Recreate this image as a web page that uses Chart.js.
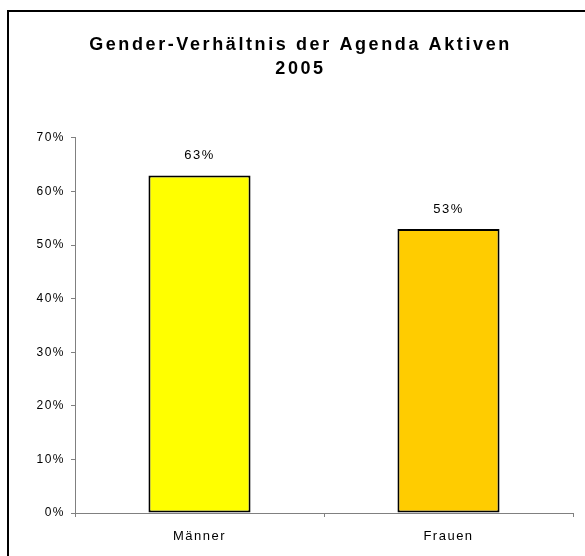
<!DOCTYPE html>
<html>
<head>
<meta charset="utf-8">
<script src="https://cdn.jsdelivr.net/npm/chart.js@4/dist/chart.umd.min.js"></script>
<style>
  html, body { margin: 0; padding: 0; background: #fff; }
  #wrap { width: 585px; height: 556px; position: relative; }
</style>
</head>
<body>
<div id="wrap"><canvas id="genderChart"></canvas></div>
<script>
// Data
var categories = ['Männer', 'Frauen'];
var shares = [63, 53];
var barColors = ['#FFFF00', '#FFCC00'];
var titleLines = ['Gender-Verhältnis der Agenda Aktiven', '2005'];

var FONT = "'Liberation Sans', Arial, sans-serif";

// Frame around the whole picture (only left and top edge visible) + spaced text
var framePlugin = {
  id: 'frame',
  afterLayout: function (chart) {
    // Title is a bit wider spaced and sits right of centre in the original
    var tb = chart.titleBlock;
    if (tb && !tb._spaced) {
      var origDraw = tb.draw;
      tb.draw = function () {
        var c = chart.ctx;
        c.save();
        c.letterSpacing = '2.6px';
        c.translate(14, 0);
        origDraw.apply(tb, arguments);
        c.restore();
      };
      tb._spaced = true;
    }
  },
  beforeDraw: function (chart) {
    var ctx = chart.ctx;
    ctx.save();
    ctx.fillStyle = '#fff';
    ctx.fillRect(0, 0, chart.width, chart.height);
    ctx.strokeStyle = '#000';
    ctx.lineWidth = 2;
    ctx.beginPath();
    ctx.moveTo(8, chart.height);
    ctx.lineTo(8, 11);
    ctx.lineTo(chart.width, 11);
    ctx.stroke();
    ctx.restore();
    ctx.letterSpacing = '1.5px';
  },
  afterDraw: function (chart) {
    chart.ctx.letterSpacing = '0px';
  }
};

// Value labels above the bars
var valueLabels = {
  id: 'valueLabels',
  afterDatasetsDraw: function (chart) {
    var ctx = chart.ctx;
    var meta = chart.getDatasetMeta(0);
    ctx.save();
    ctx.font = '13px ' + FONT;
    ctx.fillStyle = '#000';
    ctx.textAlign = 'center';
    ctx.textBaseline = 'middle';
    meta.data.forEach(function (bar, i) {
      ctx.fillText(shares[i] + '%', bar.x, bar.y - 20);
    });
    ctx.restore();
  }
};

var ctx = document.getElementById('genderChart').getContext('2d');
window.genderChart = new Chart(ctx, {
  type: 'bar',
  data: {
    labels: categories,
    datasets: [{
      data: shares,
      backgroundColor: barColors,
      borderColor: '#000',
      borderWidth: 2,
      borderSkipped: false,
      barPercentage: 0.41,
      categoryPercentage: 1
    }]
  },
  options: {
    responsive: true,
    maintainAspectRatio: false,
    animation: false,
    layout: { padding: { left: 0, right: 12, top: 0, bottom: 0 } },
    plugins: {
      legend: { display: false },
      tooltip: { enabled: false },
      title: {
        display: true,
        text: titleLines,
        color: '#000',
        font: { family: FONT, size: 18, weight: 'bold', lineHeight: 1.33 },
        padding: { top: 33, bottom: 57 }
      }
    },
    scales: {
      x: {
        grid: {
          display: true,
          offset: true,
          drawOnChartArea: false,
          drawTicks: true,
          tickLength: 4,
          tickColor: '#808080'
        },
        border: { color: '#808080', width: 1 },
        ticks: { color: '#000', font: { family: FONT, size: 13 }, padding: 12 },
        afterFit: function (scale) { scale.height = 43; }
      },
      y: {
        min: 0,
        max: 70,
        grid: {
          display: true,
          drawOnChartArea: false,
          drawTicks: true,
          tickLength: 4,
          tickColor: '#808080'
        },
        border: { color: '#808080', width: 1 },
        ticks: {
          stepSize: 10,
          color: '#000',
          padding: 6,
          font: { family: FONT, size: 12 },
          callback: function (v) { return v + '%'; }
        },
        afterFit: function (scale) { scale.width = 75; }
      }
    }
  },
  plugins: [framePlugin, valueLabels]
});
</script>
</body>
</html>
